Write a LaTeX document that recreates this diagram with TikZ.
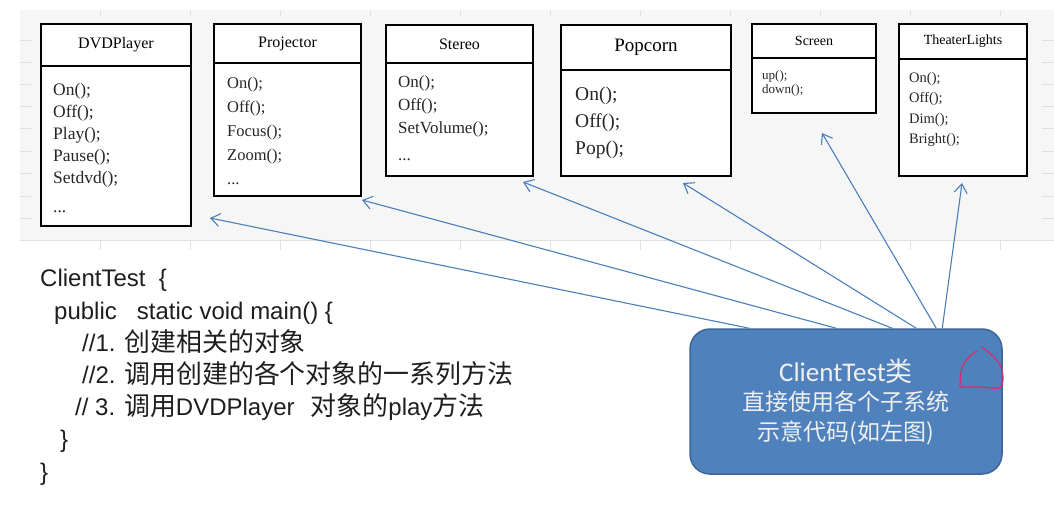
\documentclass[tikz,border=0pt]{standalone}
\usepackage{fontspec}
\setmainfont{Liberation Serif}
\newfontfamily\codefont{Liberation Sans}
\newfontfamily\cjk{Noto Sans CJK SC}
\newfontfamily\cjkcode[Scale=1.08]{Noto Sans CJK SC}
\newfontfamily\boxfont{Carlito}
\usetikzlibrary{arrows.meta,positioning}

\definecolor{panelgray}{HTML}{F6F6F6}
\definecolor{gridgray}{HTML}{E0E0E0}
\definecolor{callblue}{HTML}{4A7EBB}
\definecolor{clientfill}{HTML}{4F81BD}
\definecolor{clientline}{HTML}{3A6595}
\definecolor{scribble}{HTML}{D0306E}
\definecolor{codeblack}{HTML}{1E1E1E}

\tikzset{
  clshead/.style={draw=black, line width=2.4pt, fill=white, inner sep=0pt, outer sep=0pt},
  clsbody/.style={draw=black, line width=2.4pt, fill=white, inner sep=0pt, outer sep=0pt},
  methods/.style={anchor=base west, align=left, inner sep=0pt, text=black!85},
  callarrow/.style={draw=callblue, line width=1.1pt, -{Straight Barb[length=9pt,width=13pt]}},
  clientbox/.style={draw=clientline, line width=1.5pt, fill=clientfill, rounded corners=20pt,
    align=center, text=white!94!black, inner sep=0pt},
}

\begin{document}
\begin{tikzpicture}[x=1pt,y=-1pt]

\def\GRIDCOLOR{gridgray}
	\useasboundingbox (0,0) rectangle (1054,508);
	% sheet behind the classes
	\fill[panelgray] (20,10) rectangle (1054,240);
	\draw[\GRIDCOLOR] (20,240) -- (1054,240);
	\draw[\GRIDCOLOR] (20,40) -- ++(12,0) (1042,40) -- ++(12,0);
	\draw[\GRIDCOLOR] (20,62) -- ++(12,0) (1042,62) -- ++(12,0);
	\draw[\GRIDCOLOR] (20,84) -- ++(12,0) (1042,84) -- ++(12,0);
	\draw[\GRIDCOLOR] (20,106) -- ++(12,0) (1042,106) -- ++(12,0);
	\draw[\GRIDCOLOR] (20,128) -- ++(12,0) (1042,128) -- ++(12,0);
	\draw[\GRIDCOLOR] (20,151) -- ++(12,0) (1042,151) -- ++(12,0);
	\draw[\GRIDCOLOR] (20,173) -- ++(12,0) (1042,173) -- ++(12,0);
	\draw[\GRIDCOLOR] (20,196) -- ++(12,0) (1042,196) -- ++(12,0);
	\draw[\GRIDCOLOR] (20,218) -- ++(12,0) (1042,218) -- ++(12,0);
	\draw[\GRIDCOLOR] (100,10) -- ++(0,6) (100,240) -- ++(0,10);
	\draw[\GRIDCOLOR] (190,10) -- ++(0,6) (190,240) -- ++(0,10);
	\draw[\GRIDCOLOR] (280,10) -- ++(0,6) (280,240) -- ++(0,10);
	\draw[\GRIDCOLOR] (370,10) -- ++(0,6) (370,240) -- ++(0,10);
	\draw[\GRIDCOLOR] (460,10) -- ++(0,6) (460,240) -- ++(0,10);
	\draw[\GRIDCOLOR] (550,10) -- ++(0,6) (550,240) -- ++(0,10);
	\draw[\GRIDCOLOR] (640,10) -- ++(0,6) (640,240) -- ++(0,10);
	\draw[\GRIDCOLOR] (730,10) -- ++(0,6) (730,240) -- ++(0,10);
	\draw[\GRIDCOLOR] (820,10) -- ++(0,6) (820,240) -- ++(0,10);
	\draw[\GRIDCOLOR] (910,10) -- ++(0,6) (910,240) -- ++(0,10);
	\draw[\GRIDCOLOR] (1000,10) -- ++(0,6) (1000,240) -- ++(0,10);

	% subsystem classes (method lists sit on the baseline of their last line)
	\node[clshead, minimum width=150, minimum height=42, font=\fontsize{16}{19}\selectfont] (dvdH) at (116,45) {DVDPlayer};
	\node[clsbody, minimum width=150, minimum height=160, below=0pt of dvdH] (dvdB) {};
	\node[methods, font=\fontsize{17.5}{22.2}\selectfont] (dvdM) at (53,212) {On();\\Off();\\Play();\\Pause();\\Setdvd();\\[6pt]...};

	\node[clshead, minimum width=147, minimum height=39, font=\fontsize{16}{19}\selectfont] (projH) at (287.5,43.5) {Projector};
	\node[clsbody, minimum width=147, minimum height=133, below=0pt of projH] (projB) {};
	\node[methods, font=\fontsize{16.5}{24}\selectfont] (projM) at (227,184) {On();\\Off();\\Focus();\\Zoom();\\...};

	\node[clshead, minimum width=147, minimum height=38, font=\fontsize{16}{19}\selectfont] (sterH) at (459.5,44) {Stereo};
	\node[clsbody, minimum width=147, minimum height=113, below=0pt of sterH] (sterB) {};
	\node[methods, font=\fontsize{17}{23}\selectfont] (sterM) at (398,160) {On();\\Off();\\SetVolume();\\[3pt]...};

	\node[clshead, minimum width=170, minimum height=45, font=\fontsize{19}{22}\selectfont] (popH) at (646,47.5) {Popcorn};
	\node[clsbody, minimum width=170, minimum height=106, below=0pt of popH] (popB) {};
	\node[methods, font=\fontsize{19.5}{27}\selectfont] (popM) at (575,154) {On();\\Off();\\Pop();};

	\node[clshead, minimum width=124, minimum height=34, font=\fontsize{14}{17}\selectfont] (scrH) at (814,41) {Screen};
	\node[clsbody, minimum width=124, minimum height=55, below=0pt of scrH] (scrB) {};
	\node[methods, font=\fontsize{13}{14.5}\selectfont] (scrM) at (762,94) {up();\\down();};

	\node[clshead, minimum width=128, minimum height=35, font=\fontsize{14}{17}\selectfont] (lightH) at (963,41.5) {TheaterLights};
	\node[clsbody, minimum width=128, minimum height=117, below=0pt of lightH] (lightB) {};
	\node[methods, font=\fontsize{14.5}{20.5}\selectfont] (lightM) at (909,143.5) {On();\\Off();\\Dim();\\Bright();};

	% client code
	\node[anchor=base west, align=left, inner sep=0pt, text=codeblack, font=\codefont\fontsize{24}{32.2}\selectfont] (code) at (40,480)
	{ClientTest\ \ \{\\
	 \hspace*{14pt}public\ \ \ static void main() \{\\
	 \hspace*{42pt}//1. {\cjkcode 创建相关的对象}\\
	 \hspace*{42pt}//2. {\cjkcode 调用创建的各个对象的一系列方法}\\
	 \hspace*{35pt}// 3. {\cjkcode 调用}DVDPlayer\hspace{16pt}{\cjkcode 对象的}play{\cjkcode 方法}\\
	 \hspace*{20pt}\}\\
	 \}};

	\node[clientbox, minimum width=312, minimum height=145, font=\cjk\fontsize{23}{29.5}\selectfont] (client) at (846,401.5)
	{{\fontsize{27}{30}\selectfont\boxfont ClientTest\cjk 类}\\
	 直接使用各个子系统\\
	 示意代码(如左图)};

	% calls from the client to every subsystem
	\coordinate (c1) at ([xshift=60]client.north west);
	\coordinate (c2) at ([xshift=147]client.north west);
	\coordinate (c3) at ([xshift=203]client.north west);
	\coordinate (c4) at ([xshift=227]client.north west);
	\coordinate (c5) at ([xshift=247]client.north west);
	\coordinate (c6) at ([xshift=253]client.north west);
	\coordinate (dvdTip) at ([shift={(19,-8)}]dvdB.south east);
	\coordinate (projTip) at ([shift={(1,4)}]projB.south east);
	\coordinate (sterTip) at ([shift={(-10,6)}]sterB.south east);
	\coordinate (popTip) at ([shift={(-48,7)}]popB.south east);
	\coordinate (scrTip) at ([shift={(8,20)}]scrB.south);
	\coordinate (lightTip) at ([shift={(-1,7)}]lightB.south);
	\draw[callarrow] (c1) -- (dvdTip);
	\draw[callarrow] (c2) -- (projTip);
	\draw[callarrow] (c3) -- (sterTip);
	\draw[callarrow] (c4) -- (popTip);
	\draw[callarrow] (c5) -- (scrTip);
	\draw[callarrow] (c6) -- (lightTip);

	% red mark
	\draw[scribble, line width=1.3pt, line cap=round] plot[smooth] coordinates {(960,386) (962,367) (971,355) (977,351)};
	\draw[scribble, line width=1.3pt, line cap=round] plot[smooth] coordinates {(982,347) (994,357) (1001,367) (1003,380) (999,388) (980,387) (960,387)};

\end{tikzpicture}
\end{document}
